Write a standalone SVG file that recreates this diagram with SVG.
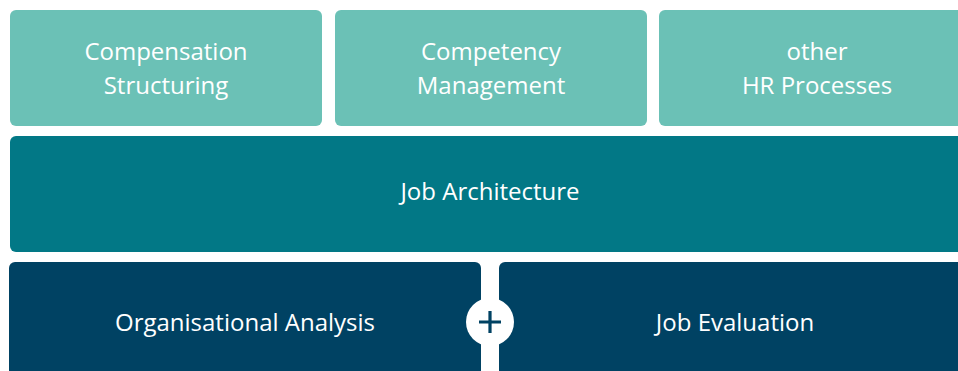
<svg xmlns="http://www.w3.org/2000/svg" width="958" height="371" viewBox="0 0 958 371">
<style>
.t{font-family:"Open Sans","Liberation Sans",sans-serif;font-size:24px;fill:#ffffff;text-anchor:middle}
.top{fill:#6bc1b6}
.mid{fill:#027886}
.bot{fill:#004263}
</style>
<rect width="958" height="371" fill="#ffffff"/>
<g id="compensation">
<rect class="top" x="10" y="10" width="312" height="116" rx="6"/>
<text class="t" x="166" y="60">Compensation</text>
<text class="t" x="166" y="94">Structuring</text>
</g>
<g id="competency">
<rect class="top" x="335" y="10" width="312" height="116" rx="6"/>
<text class="t" x="491" y="60">Competency</text>
<text class="t" x="491" y="94">Management</text>
</g>
<g id="other">
<rect class="top" x="659" y="10" width="320" height="116" rx="6"/>
<text class="t" x="817" y="60">other</text>
<text class="t" x="817" y="94">HR Processes</text>
</g>
<g id="jobarch">
<rect class="mid" x="10" y="136" width="970" height="116" rx="6"/>
<text class="t" x="490" y="200">Job Architecture</text>
</g>
<g id="organa">
<rect class="bot" x="9" y="262" width="472" height="130" rx="6"/>
<text class="t" x="245" y="331">Organisational Analysis</text>
</g>
<g id="jobeval">
<rect class="bot" x="499" y="262" width="480" height="130" rx="6"/>
<text class="t" x="735" y="331">Job Evaluation</text>
</g>
<g id="plus">
<circle cx="490" cy="322" r="24" fill="#ffffff"/>
<path d="M479 322H501M490 311V333" stroke="#004263" stroke-width="3.2" fill="none"/>
</g>
<g id="connectors"></g>
</svg>
